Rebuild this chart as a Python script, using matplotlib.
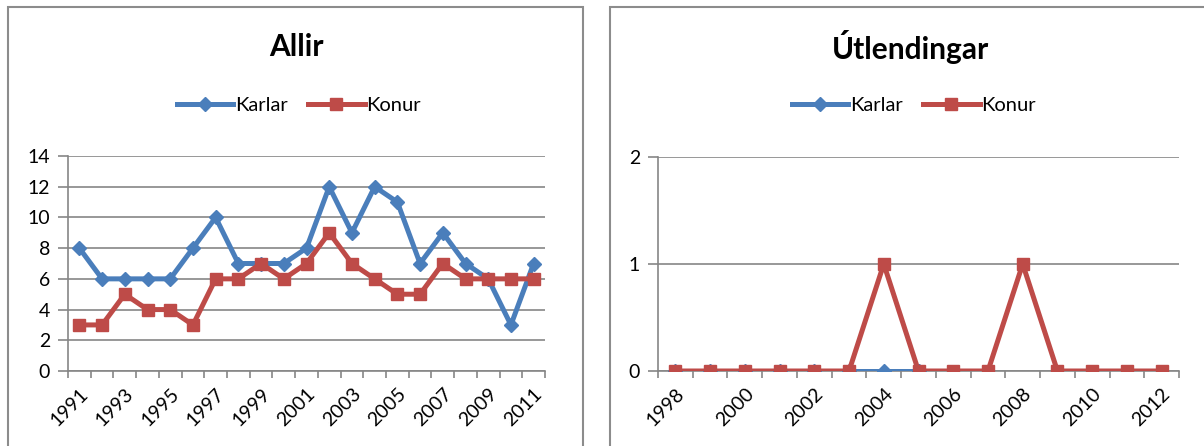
import matplotlib
matplotlib.use("Agg")
import matplotlib.pyplot as plt
from matplotlib.patches import Rectangle
import numpy as np

plt.rcParams['font.family'] = ['Lato', 'DejaVu Sans']

# ---- data ----
years_left = list(range(1991, 2012))
karlar_left = [8, 6, 6, 6, 6, 8, 10, 7, 7, 7, 8, 12, 9, 12, 11, 7, 9, 7, 6, 3, 7]
konur_left = [3, 3, 5, 4, 4, 3, 6, 6, 7, 6, 7, 9, 7, 6, 5, 5, 7, 6, 6, 6, 6]

years_right = list(range(1998, 2013))
karlar_right = [0, 0, 0, 0, 0, 0, 0, 0, None, None, None, None, None, None, None]
konur_right = [0, 0, 0, 0, 0, 0, 1, 0, 0, 0, 1, 0, 0, 0, 0]

title_left = "Allir"
title_right = "Útlendingar"
series_names = ["Karlar", "Konur"]

BLUE = "#4A7EBB"
RED = "#BE4B48"
GRID = "#868686"

W, H = 1204, 446
fig = plt.figure(figsize=(W / 100, H / 100), dpi=100)


def fx(px):
    return px / W


def fy(py):
    return 1 - py / H


# panel borders
for (x0, y0, x1, y1) in [(8, 7, 583, 460), (610, 7, 1220, 460)]:
    fig.patches.append(Rectangle((fx(x0), fy(y1)), fx(x1 - x0), (y1 - y0) / H,
                                 transform=fig.transFigure, fill=False,
                                 edgecolor="#8c8c8c", linewidth=1.5, clip_on=False))


def make_panel(ax_box, years, k, f, yticks, title, title_x, legend_x):
    x0, y0, x1, y1 = ax_box
    ax = fig.add_axes([fx(x0), fy(y1), fx(x1 - x0), (y1 - y0) / H])
    n = len(years)
    xs = np.arange(n)
    kv = np.array([np.nan if v is None else v for v in k], dtype=float)
    fv = np.array([np.nan if v is None else v for v in f], dtype=float)
    ax.plot(xs, kv, color=BLUE, lw=3.6, marker='D', ms=7, label=series_names[0],
            zorder=3)
    ax.plot(xs, fv, color=RED, lw=3.6, marker='s', ms=9, label=series_names[1],
            zorder=4)
    ax.set_xlim(-0.5, n - 0.5)
    ax.set_ylim(yticks[0], yticks[-1])
    ax.set_yticks(yticks)
    ax.set_yticklabels([str(v) for v in yticks])
    ax.set_xticks(xs[::2])
    ax.set_xticklabels([str(y) for y in years[::2]], rotation=45, ha='right',
                       rotation_mode='anchor')
    ax.set_xticks(np.arange(-0.5, n, 1.0), minor=True)
    ax.tick_params(axis='x', which='major', length=0, pad=10, labelsize=14)
    ax.tick_params(axis='x', which='minor', length=5, color=GRID, width=1.2)
    ax.tick_params(axis='y', length=7, color=GRID, width=1.2, labelsize=14, pad=6)
    ax.grid(axis='y', color=GRID, lw=1.2, zorder=0)
    ax.set_axisbelow(True)
    for s in ['top', 'right']:
        ax.spines[s].set_visible(False)
    for s in ['left', 'bottom']:
        ax.spines[s].set_color(GRID)
        ax.spines[s].set_linewidth(1.2)
    ax.spines['bottom'].set_zorder(1)
    fig.text(fx(title_x), fy(47), title, ha='center', va='center',
             fontsize=21.5, fontweight='bold')
    fig.legend(handles=ax.get_lines(), loc='center',
               bbox_to_anchor=(fx(legend_x), fy(105)), ncol=2, frameon=False,
               fontsize=14.5, handlelength=2.8, handletextpad=0.1,
               columnspacing=1.0, numpoints=1, borderaxespad=0)
    return ax


make_panel((68, 156, 545, 371), years_left, karlar_left, konur_left,
           list(range(0, 15, 2)), title_left, 296, 299)
make_panel((658, 157, 1179, 371), years_right, karlar_right, konur_right,
           [0, 1, 2], title_right, 910, 914)

fig.savefig("out.png", dpi=100)
